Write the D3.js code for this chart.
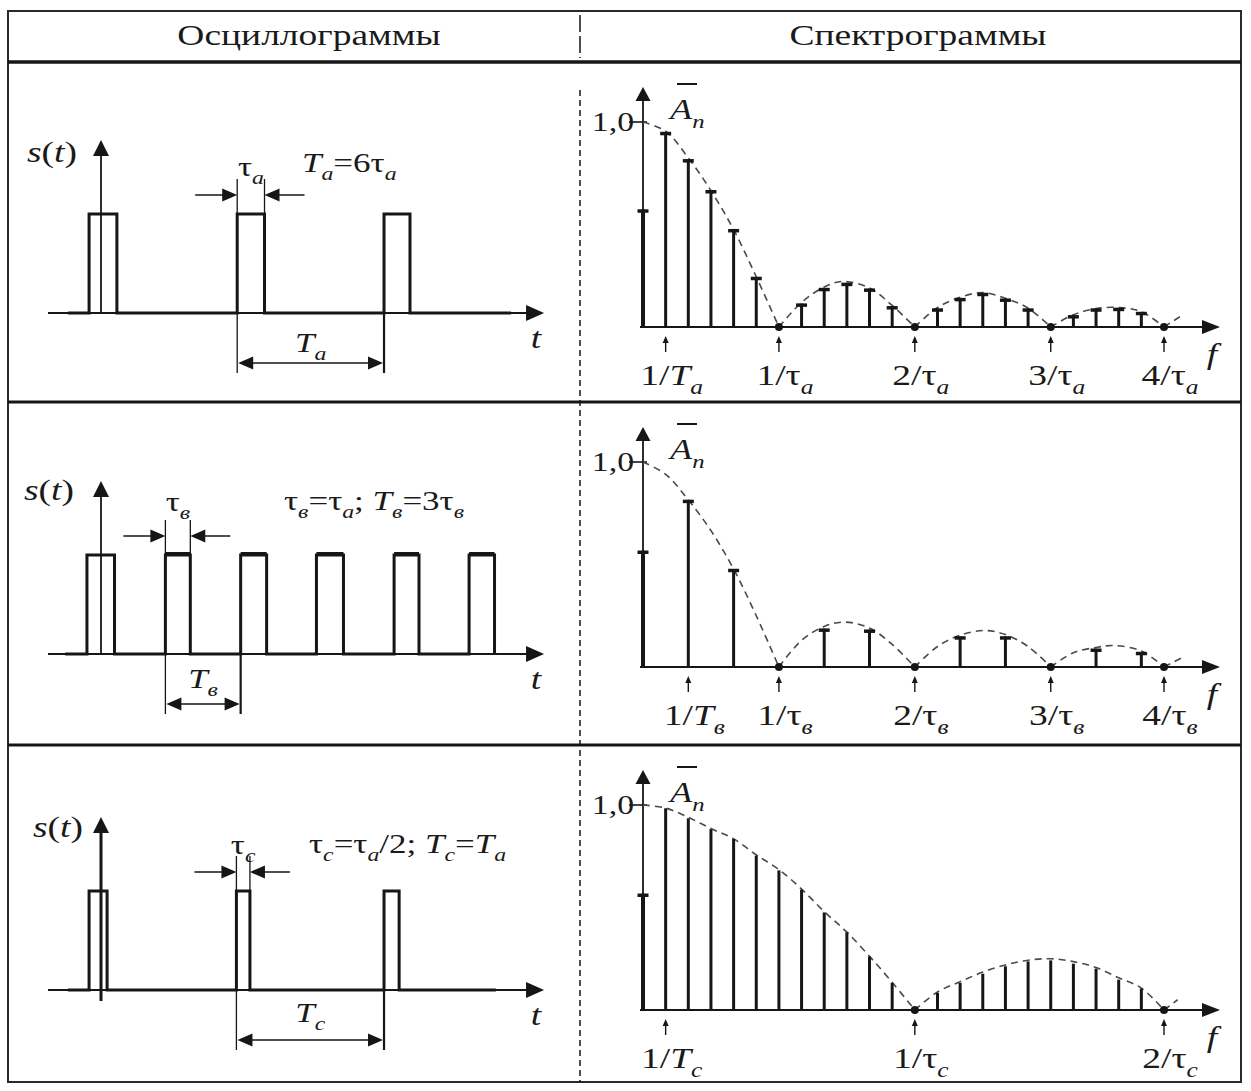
<!DOCTYPE html>
<html>
<head>
<meta charset="utf-8">
<script src="https://cdn.jsdelivr.net/npm/d3@7"></script>
<style>
  html, body { margin: 0; padding: 0; background: #fff; }
  svg { display: block; }
  text { font-family: "Liberation Serif", "DejaVu Serif", serif; fill: #1a1a1a; }
</style>
</head>
<body>
<svg id="fig" width="1251" height="1091"></svg>
<script>
// ---------------- data ----------------
const headerTitles = ["Осциллограммы", "Спектрограммы"];

// Oscillograms: time in units of τa, t = 0 on the s(t) axis; pulses as [start, end]
const pulsesA = [[-0.45, 0.60], [5.14, 6.17], [10.68, 11.66]];
const pulsesB = [[-0.53, 0.51], [2.43, 3.37], [5.27, 6.25], [8.13, 9.15], [11.06, 12.00], [13.89, 14.85]];
const pulsesC = [[-0.45, 0.23], [5.11, 5.62], [10.68, 11.25]];
const signalSpanA = [-1.25, 15.47];
const signalSpanB = [-1.35, 14.85];
const signalSpanC = [-1.25, 14.90];
const formulaLabels = ["T_a=6τ_a", "τ_в=τ_a; T_в=3τ_в", "τ_c=τ_a/2; T_c=T_a"];
const tauLabels = ["τ_a", "τ_в", "τ_c"];
const periodLabels = ["T_a", "T_в", "T_c"];

// Spectra: frequency as harmonic number of 1/Ta, amplitude normalised to 1,0
const harmA = [1, 2, 3, 4, 5, 7, 8, 9, 10, 11, 13, 14, 15, 16, 17, 19, 20, 21, 22];
const ampA  = [0.951, 0.818, 0.667, 0.477, 0.244, 0.114, 0.190, 0.215, 0.187, 0.101,
               0.090, 0.141, 0.166, 0.138, 0.090, 0.057, 0.090, 0.093, 0.073];
const harmB = [2, 4, 8, 10, 14, 16, 20, 22];
const ampB  = [0.815, 0.478, 0.187, 0.182, 0.149, 0.149, 0.089, 0.073];
const harmC = [1, 2, 3, 4, 5, 6, 7, 8, 9, 10, 11, 13, 14, 15, 16, 17, 18, 19, 20, 21, 22];
const ampC  = [0.984, 0.935, 0.882, 0.834, 0.753, 0.681, 0.587, 0.476, 0.379, 0.261, 0.132,
               0.084, 0.132, 0.177, 0.213, 0.237, 0.242, 0.226, 0.202, 0.148, 0.105];
const dcAmp = [0.573, 0.567, 0.567];
const zerosA = [6, 12, 18, 23];
const zerosB = [6, 12, 18, 23];
const zerosC = [12, 23];
const tickPosA = [1, 6, 12, 18, 23];
const tickLabA = ["1/T_a", "1/τ_a", "2/τ_a", "3/τ_a", "4/τ_a"];
const tickPosB = [2, 6, 12, 18, 23];
const tickLabB = ["1/T_в", "1/τ_в", "2/τ_в", "3/τ_в", "4/τ_в"];
const tickPosC = [1, 12, 23];
const tickLabC = ["1/T_c", "1/τ_c", "2/τ_c"];
const yTickLabel = "1,0";

// Dashed envelopes, one list of [n, amplitude] per lobe
const envelopeA = [
  [[0, 1.0], [1, 0.955], [2, 0.825], [3, 0.665], [4, 0.475], [5, 0.245], [6, 0]],
  [[6, 0], [7, 0.12], [8, 0.195], [8.8, 0.222], [10, 0.19], [11, 0.105], [12, 0]],
  [[12, 0], [13, 0.095], [14, 0.145], [15, 0.168], [16, 0.14], [17, 0.092], [18, 0]],
  [[18, 0], [19, 0.06], [20, 0.09], [21, 0.095], [22, 0.075], [23, 0]],
  [[23, 0], [23.7, 0.05]]
];
const envelopeB = [
  [[0, 1.0], [1, 0.94], [2, 0.815], [3, 0.665], [4, 0.478], [5, 0.25], [6, 0]],
  [[6, 0], [7, 0.13], [8, 0.198], [8.9, 0.219], [10, 0.19], [11, 0.11], [12, 0]],
  [[12, 0], [13, 0.1], [14, 0.155], [15.1, 0.178], [16, 0.158], [17, 0.1], [18, 0]],
  [[18, 0], [19, 0.07], [20, 0.095], [20.8, 0.105], [22, 0.078], [23, 0]],
  [[23, 0], [23.85, 0.049]]
];
const envelopeC = [
  [[0, 1.0], [1, 0.985], [2, 0.94], [3, 0.885], [4, 0.835], [5, 0.757], [6, 0.685],
   [7, 0.59], [8, 0.48], [9, 0.38], [10, 0.262], [11, 0.135], [12, 0]],
  [[12, 0], [13, 0.088], [14, 0.138], [15, 0.185], [16, 0.22], [17, 0.243], [18, 0.25],
   [19, 0.236], [20, 0.207], [21, 0.157], [22, 0.107], [23, 0]],
  [[23, 0], [23.6, 0.05]]
];

// ---------------- layout ----------------
const STRETCH = 1.25;             // horizontal stretch of the lettering
const INK = "#161616";
const frame = { x0: 8, y0: 11, x1: 1241, y1: 1082, header: 62, rowLines: [402, 745], split: 580 };

const rows = [
  { pulses: pulsesA, span: signalSpanA, harm: harmA, amp: ampA, zeros: zerosA, tickPos: tickPosA,
    tickLab: tickLabA, env: envelopeA, caps: true,
    oscBase: 313, specBase: 327, sX: 52, sY: 162, tauY: 176, formX: 302, formY: 172, perY: 352, tY: 348, axisBelow: 0, axisW: 1.8, thickTop: false },
  { pulses: pulsesB, span: signalSpanB, harm: harmB, amp: ampB, zeros: zerosB, tickPos: tickPosB,
    tickLab: tickLabB, env: envelopeB, caps: true,
    oscBase: 654, specBase: 667, sX: 49, sY: 500, tauY: 511, formX: 284, formY: 510, perY: 688, tY: 690, axisBelow: 0, axisW: 1.8, thickTop: true },
  { pulses: pulsesC, span: signalSpanC, harm: harmC, amp: ampC, zeros: zerosC, tickPos: tickPosC,
    tickLab: tickLabC, env: envelopeC, caps: false,
    oscBase: 990, specBase: 1010, sX: 58, sY: 837, tauY: 854, formX: 309, formY: 853, perY: 1022, tY: 1022, axisBelow: 11, axisW: 3, thickTop: false }
];

// shared scales
const tX = d3.scaleLinear().domain([0, 1]).range([101, 127.5]);   // 26.5 px per τa
const nX = d3.scaleLinear().domain([0, 23]).range([643, 1164]);   // harmonic number -> x

const svg = d3.select("#fig");
svg.append("rect").attr("width", 1251).attr("height", 1091).attr("fill", "#fff");

// ---------------- helpers ----------------
function runsOf(str) {
  const toks = [];
  for (let i = 0; i < str.length; i++) {
    let ch = str[i], sub = false;
    if (ch === "_") { sub = true; ch = str[++i]; }
    const italic = /[A-Za-zА-Яа-яЁё]/.test(ch);
    const last = toks[toks.length - 1];
    if (last && last.sub === sub && last.italic === italic) last.text += ch;
    else toks.push({ text: ch, sub, italic });
  }
  return toks;
}

function richText(parent, str, x, y, size, anchor) {
  const g = parent.append("g").attr("transform", `translate(${x},${y}) scale(${STRETCH},1)`);
  const t = g.append("text").attr("font-size", size).attr("text-anchor", anchor || "middle");
  const shift = size * 0.3;
  let prevSub = false;
  runsOf(str).forEach(r => {
    const ts = t.append("tspan").text(r.text);
    if (r.italic) ts.attr("font-style", "italic");
    if (r.sub) ts.attr("font-size", size * 0.68);
    if (r.sub && !prevSub) ts.attr("dy", shift);
    if (!r.sub && prevSub) ts.attr("dy", -shift);
    prevSub = r.sub;
  });
  return g;
}

function plainText(parent, str, x, y, size, anchor) {
  const g = parent.append("g").attr("transform", `translate(${x},${y}) scale(${STRETCH},1)`);
  g.append("text").attr("font-size", size).attr("text-anchor", anchor || "middle").text(str);
  return g;
}

// filled arrowhead with its tip at (x, y)
function head(parent, x, y, dir, len, half) {
  let pts;
  if (dir === "up")    pts = [[x, y], [x - half, y + len], [x + half, y + len]];
  if (dir === "down")  pts = [[x, y], [x - half, y - len], [x + half, y - len]];
  if (dir === "right") pts = [[x, y], [x - len, y - half], [x - len, y + half]];
  if (dir === "left")  pts = [[x, y], [x + len, y - half], [x + len, y + half]];
  parent.append("path").attr("d", "M" + pts.map(p => p.join(",")).join("L") + "Z").attr("fill", INK);
}

function seg(parent, x1, y1, x2, y2, w, extra) {
  const l = parent.append("line").attr("x1", x1).attr("y1", y1).attr("x2", x2).attr("y2", y2)
    .attr("stroke", INK).attr("stroke-width", w);
  if (extra) extra(l);
  return l;
}

// ---------------- frame and header ----------------
const gFrame = svg.append("g");
gFrame.append("rect").attr("x", frame.x0).attr("y", frame.y0)
  .attr("width", frame.x1 - frame.x0).attr("height", frame.y1 - frame.y0)
  .attr("fill", "none").attr("stroke", "#2a2a2a").attr("stroke-width", 2);
seg(gFrame, frame.x0, frame.header, frame.x1, frame.header, 3.5);
frame.rowLines.forEach(y => seg(gFrame, frame.x0, y, frame.x1, y, 3));
seg(gFrame, frame.split, frame.y0 + 4, frame.split, frame.header - 4, 1.5,
    l => l.attr("stroke-dasharray", "17,4"));
seg(gFrame, frame.split, frame.header + 28, frame.split, frame.y1, 1.5,
    l => l.attr("stroke-dasharray", "6,4"));

plainText(gFrame, headerTitles[0], 309, 45, 30, "middle");
plainText(gFrame, headerTitles[1], 918, 45, 30, "middle");

// ---------------- panels ----------------
rows.forEach((row, i) => {
  // ---- oscillogram ----
  const g = svg.append("g").attr("class", "osc");
  const yS = d3.scaleLinear().domain([0, 1]).range([row.oscBase, row.oscBase - 99]);
  const x0 = tX(0);

  // time axis
  seg(g, tX(-2), yS(0), tX(16.72) - 14, yS(0), 1.8);
  head(g, tX(16.72), yS(0), "right", 18, 8);
  richText(g, "t", 536, row.oscBase + 35, 30, "middle");

  // s(t) axis
  seg(g, x0, yS(0) + row.axisBelow, x0, row.oscBase - 173 + 12, row.axisW);
  head(g, x0, row.oscBase - 173, "up", 16, 8);
  richText(g, "s(t)", row.sX, row.sY, 30, "middle");

  // pulse train
  const pts = [[row.span[0], 0]];
  row.pulses.forEach(([s, e]) => { pts.push([s, 0], [s, 1], [e, 1], [e, 0]); });
  pts.push([row.span[1], 0]);
  g.append("path")
    .attr("d", d3.line().x(d => tX(d[0])).y(d => yS(d[1]))(pts))
    .attr("fill", "none").attr("stroke", INK).attr("stroke-width", 3)
    .attr("stroke-linejoin", "miter");
  if (row.thickTop) {
    row.pulses.slice(1).forEach(([s, e]) => seg(g, tX(s), yS(1) - 1, tX(e), yS(1) - 1, 4));
  }

  // pulse width τ marker
  const [ps, pe] = row.pulses[1];
  const top = yS(1);
  const ay = top - 19;
  seg(g, tX(ps), top, tX(ps), top - 35, 1.3);
  seg(g, tX(pe), top, tX(pe), top - 35, 1.3);
  seg(g, tX(ps) - 42, ay, tX(ps) - 14, ay, 1.5);
  head(g, tX(ps), ay, "right", 15, 6.5);
  seg(g, tX(pe) + 40, ay, tX(pe) + 14, ay, 1.5);
  head(g, tX(pe), ay, "left", 15, 6.5);
  richText(g, tauLabels[i], (tX(ps) + tX(pe)) / 2, row.tauY, 28, "middle");

  // period T marker
  const p2 = row.pulses[2][0];
  const by = yS(0) + 50;
  seg(g, tX(ps), yS(0), tX(ps), yS(0) + 60, 1.3);
  seg(g, tX(p2), yS(0), tX(p2), yS(0) + 60, 2.2);
  seg(g, tX(ps) + 14, by, tX(p2) - 14, by, 1.5);
  head(g, tX(ps) + 1, by, "left", 15, 6.5);
  head(g, tX(p2) - 1, by, "right", 15, 6.5);
  richText(g, periodLabels[i], (tX(ps) + tX(p2)) / 2, row.perY, 28, "middle");

  // relation between pulse parameters
  richText(g, formulaLabels[i], row.formX, row.formY, 28, "start");

  // ---- spectrogram ----
  const s = svg.append("g").attr("class", "spec");
  const yA = d3.scaleLinear().domain([0, 1]).range([row.specBase, row.specBase - 205]);
  const ax = nX(0);

  // frequency axis
  seg(s, ax - 3, yA(0), 1220 - 15, yA(0), 2.2);
  head(s, 1220, yA(0), "right", 18, 7);
  richText(s, "f", 1212, row.specBase + 37, 30, "middle");

  // amplitude axis with 1,0 tick
  seg(s, ax, yA(0), ax, row.specBase - 240 + 10, 1.8);
  head(s, ax, row.specBase - 240, "up", 14, 7.5);
  seg(s, ax - 14, yA(1), ax + 4, yA(1), 1.6);
  plainText(s, yTickLabel, ax - 9, yA(1) + 9, 27, "end");

  // Ā_n label
  richText(s, "A_n", ax + 27, yA(1) - 3, 29, "start");
  seg(s, ax + 34, yA(1) - 38, ax + 54, yA(1) - 38, 2);

  // dashed envelope
  const env = d3.line().x(d => nX(d[0])).y(d => yA(d[1])).curve(d3.curveCatmullRom.alpha(0.5));
  s.selectAll("path.env").data(row.env).join("path").attr("class", "env")
    .attr("d", env).attr("fill", "none").attr("stroke", "#4a4a4a")
    .attr("stroke-width", 1.6).attr("stroke-dasharray", "7,5");

  // constant component on the axis
  seg(s, ax, yA(0), ax, yA(dcAmp[i]), 4);
  seg(s, ax - 5.5, yA(dcAmp[i]) + 1.5, ax + 5.5, yA(dcAmp[i]) + 1.5, 3.5);

  // harmonics
  const lines = d3.zip(row.harm, row.amp);
  s.selectAll("line.stem").data(lines).join("line").attr("class", "stem")
    .attr("x1", d => nX(d[0])).attr("x2", d => nX(d[0]))
    .attr("y1", yA(0)).attr("y2", d => yA(d[1]))
    .attr("stroke", INK).attr("stroke-width", 3);
  if (row.caps) {
    s.selectAll("line.cap").data(lines).join("line").attr("class", "cap")
      .attr("x1", d => nX(d[0]) - 5.5).attr("x2", d => nX(d[0]) + 5.5)
      .attr("y1", d => yA(d[1]) + 1.5).attr("y2", d => yA(d[1]) + 1.5)
      .attr("stroke", INK).attr("stroke-width", 3.5);
  }

  // zeros of the envelope
  s.selectAll("circle.zero").data(row.zeros).join("circle").attr("class", "zero")
    .attr("cx", d => nX(d)).attr("cy", yA(0)).attr("r", 4).attr("fill", INK);

  // frequency markers
  row.tickPos.forEach((n, k) => {
    const x = nX(n);
    seg(s, x, yA(0) + 25, x, yA(0) + 15, 1.4);
    head(s, x, yA(0) + 9, "up", 7, 3);
    richText(s, row.tickLab[k], x + 6, yA(0) + 58, 30, "middle");
  });
});
</script>
</body>
</html>
